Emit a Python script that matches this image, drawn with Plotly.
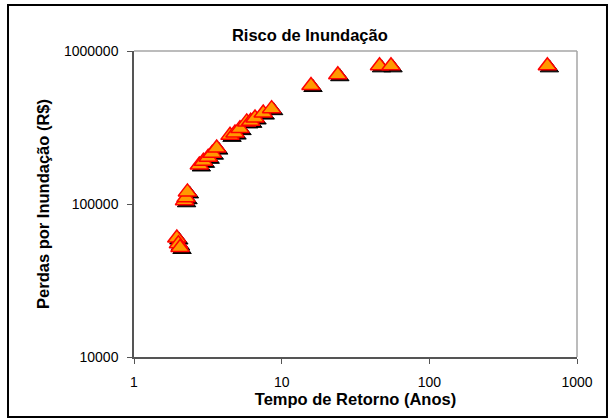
import plotly.graph_objects as go

# Return period (years) and flood losses (R$)
tempo_retorno = [
    1.95, 2.0, 2.05,
    2.2, 2.25, 2.3,
    2.77, 2.95, 3.18, 3.39, 3.63,
    4.47, 4.83, 5.22,
    5.8, 6.17, 6.6, 7.5, 8.55,
    15.8, 24.0, 46.0, 55.0, 630.0,
]
perdas = [
    60000, 55000, 52000,
    105000, 110000, 120000,
    180000, 190000, 202000, 215000, 232000,
    281000, 291000, 311000,
    344000, 347000, 365000, 393000, 420000,
    595000, 700000, 800000, 800000, 800000,
]

x_ticks = [1, 10, 100, 1000]
x_ticktext = ["1", "10", "100", "1000"]
y_ticks = [10000, 100000, 1000000]
y_ticktext = ["10000", "100000", "1000000"]

FONT = "Liberation Sans, Arial, sans-serif"

# drop-shadow offset of the markers (multiplicative, log axes)
sx, sy = 1.032, 0.970

fig = go.Figure()
fig.add_trace(go.Scatter(
    x=[v * sx for v in tempo_retorno], y=[v * sy for v in perdas],
    mode="markers", hoverinfo="skip",
    marker=dict(symbol="triangle-up", size=16, color="black",
                line=dict(color="black", width=1)),
))
fig.add_trace(go.Scatter(
    x=tempo_retorno, y=perdas, mode="markers",
    marker=dict(symbol="triangle-up", size=16, color="#FF9900",
                line=dict(color="#FF0000", width=1.5)),
))

fig.update_layout(
    width=610, height=420,
    margin=dict(l=134, r=33, t=51, b=63),
    paper_bgcolor="white", plot_bgcolor="white",
    showlegend=False,
    font=dict(family=FONT, size=14, color="black"),
    title=dict(text="<b>Risco de Inundação</b>", x=0.397, xref="paper",
               xanchor="center", y=0.915, yanchor="middle",
               font=dict(family=FONT, size=16.5, color="black")),
    xaxis=dict(type="log", range=[0, 3], tickvals=x_ticks, ticktext=x_ticktext,
               showgrid=False, zeroline=False, showline=True,
               linecolor="#555555", linewidth=1.5,
               ticks="outside", ticklen=5, tickcolor="#555555",
               ticklabelstandoff=6, tickfont=dict(size=14),
               title=dict(text="<b>Tempo de Retorno (Anos)</b>", standoff=5,
                          font=dict(size=16.5))),
    yaxis=dict(type="log", range=[4, 6], tickvals=y_ticks, ticktext=y_ticktext,
               showgrid=False, zeroline=False, showline=True,
               linecolor="#555555", linewidth=1.5,
               ticks="outside", ticklen=5, tickcolor="#555555",
               ticklabelstandoff=6, tickfont=dict(size=14),
               title=dict(text="<b>Perdas por Inundação (R$)</b>", standoff=10,
                          font=dict(size=16.5))),
    shapes=[
        # top and right edges of the plot area
        dict(type="line", xref="paper", yref="paper", x0=0, x1=1, y0=1, y1=1,
             line=dict(color="#A6A6A6", width=1.5)),
        dict(type="line", xref="paper", yref="paper", x0=1, x1=1, y0=0, y1=1,
             line=dict(color="#A6A6A6", width=1.5)),
        # chart frame
        dict(type="rect", xref="paper", yref="paper",
             x0=-0.2844, x1=1.0677, y0=-0.196, y1=1.1503,
             line=dict(color="black", width=2)),
    ],
)

fig.write_html("out.html")
